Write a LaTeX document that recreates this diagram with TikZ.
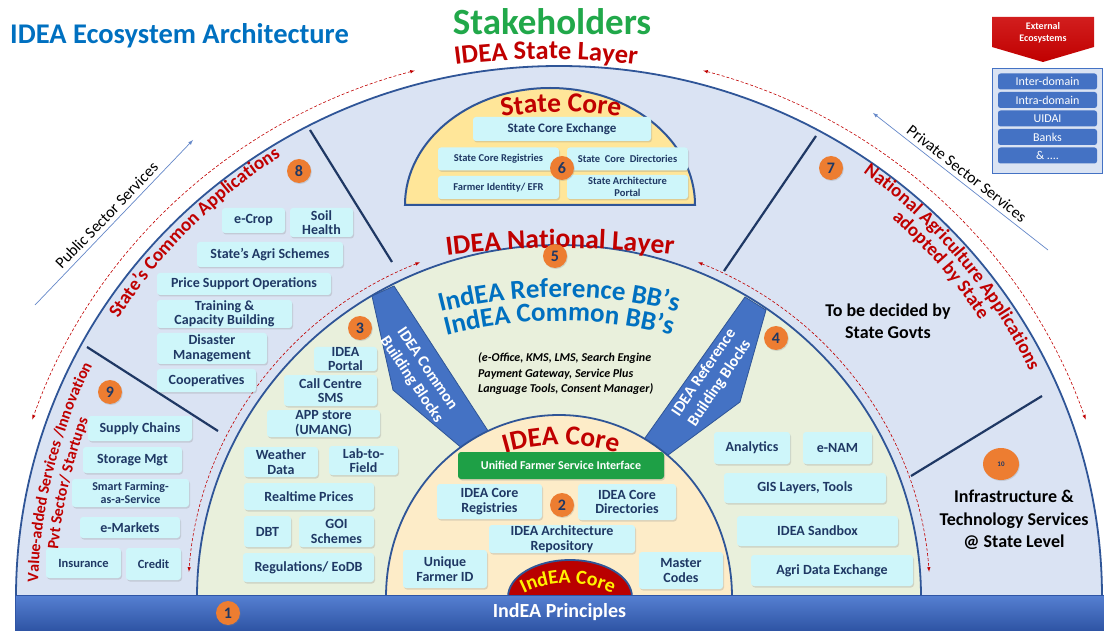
\documentclass[tikz,border=0pt]{standalone}
\usepackage{fontspec}
\setmainfont{Carlito}
\usepackage{tikz}
\usetikzlibrary{calc,shadows}
\usetikzlibrary{decorations.text}
\usetikzlibrary{arrows,backgrounds,shapes}

\definecolor{navy}{RGB}{31,56,100}
\definecolor{rimblue}{RGB}{47,85,151}
\definecolor{statefill}{RGB}{218,227,243}
\definecolor{natfill}{RGB}{233,240,220}
\definecolor{corefill}{RGB}{253,236,200}
\definecolor{scorefill}{RGB}{255,230,153}
\definecolor{boxcyan}{RGB}{206,246,250}
\definecolor{titlered}{RGB}{192,0,0}
\definecolor{titleblue}{RGB}{0,112,192}
\definecolor{stakegreen}{RGB}{33,168,74}
\definecolor{ufsigreen}{RGB}{30,160,70}
\definecolor{badgeorange}{RGB}{237,125,49}
\definecolor{bbblue}{RGB}{68,114,196}
\definecolor{barlight}{RGB}{86,128,210}
\definecolor{bardark}{RGB}{47,85,165}
\definecolor{arrowblue}{RGB}{100,135,200}
\definecolor{domered}{RGB}{185,0,0}
\definecolor{extlight}{RGB}{210,30,30}

\newcommand{\fsz}[2]{\fontsize{#1}{#2}\selectfont}
\newcommand{\arcstatelayer}{\fontsize{26.5}{26.5}\selectfont\bfseries\color{titlered}}
\newcommand{\arclayer}{\fontsize{27.5}{27.5}\selectfont\bfseries\color{titlered}}
\newcommand{\arcapps}{\fontsize{19}{19}\selectfont\bfseries\color{titlered}}
\newcommand{\arcvas}{\fontsize{16}{16}\selectfont\bfseries\color{titlered}}
\newcommand{\arcbb}{\fontsize{27}{27}\selectfont\bfseries\color{titleblue}}
\newcommand{\arcdome}{\fontsize{20}{20}\selectfont\bfseries\color{yellow}}

\tikzset{
  rim/.style={draw=rimblue, line width=1.8pt},
  redarrow/.style={draw=titlered, dash pattern=on 3pt off 2pt, line width=0.6pt, latex-latex},
  divider/.style={draw=navy, line width=2.2pt},
  block/.style={fill=bbblue, draw=rimblue, line width=0.8pt},
  blocktext/.style={text=white, font=\bfseries\fsz{16}{19}, align=center},
  appbox/.style={fill=boxcyan, rounded corners=3pt, text=navy, align=center, inner sep=0pt,
    font=\bfseries\fsz{14}{14.5}, drop shadow={opacity=0.25,shadow xshift=1pt,shadow yshift=-1.5pt}},
  smallbox/.style={appbox, font=\bfseries\fsz{10.5}{11.5}},
  wh/.style 2 args={minimum width=#1, minimum height=#2},
  badge/.style={circle, fill=badgeorange, minimum size=24pt, inner sep=0pt, text=navy,
    font=\bfseries\fsz{16}{16}, drop shadow={opacity=0.25,shadow xshift=0.8pt,shadow yshift=-1pt}},
  extitem/.style={fill=bbblue, rounded corners=2.5pt, text=white, font=\fsz{12}{12},
    minimum width=99, minimum height=16, inner sep=0pt},
  svcarrow/.style={draw=arrowblue, line width=0.7pt},
  arclabel/.style={decorate, decoration={text along path, text align=center, text={#1}}},
}

\begin{document}
\begin{tikzpicture}[x=1pt, y=1pt]
    \useasboundingbox (0,0) rectangle (1104,633);

    \fill[statefill] (16,36) arc[start angle=180, end angle=0, x radius=543, y radius=531] -- cycle;
    \draw[rim] (16,36) arc[start angle=180, end angle=0, x radius=543, y radius=531];
    \draw[redarrow, shift={(559,36)}] (105:557 and 545) arc[start angle=105, end angle=161, x radius=557, y radius=545];
    \draw[redarrow, shift={(559,36)}] (75:557 and 545) arc[start angle=75, end angle=19, x radius=557, y radius=545];

    \coordinate (divA1) at (310,503); \coordinate (divA2) at (392,371);
    \coordinate (divB1) at (87,286);  \coordinate (divB2) at (218,202);
    \coordinate (divC1) at (816,497); \coordinate (divC2) at (724,362);
    \coordinate (divD1) at (1042,237); \coordinate (divD2) at (911,157);
    \draw[divider] (divA1) -- (divA2);
    \draw[divider] (divB1) -- (divB2);
    \draw[divider] (divC1) -- (divC2);
    \draw[divider] (divD1) -- (divD2);

    \fill[natfill] (197,36) arc[start angle=180, end angle=0, x radius=362, y radius=352] -- cycle;
    \draw[rim] (197,36) arc[start angle=180, end angle=0, x radius=362, y radius=352];
    \draw[redarrow, shift={(559,36)}] (112:371 and 361) arc[start angle=112, end angle=176, x radius=371, y radius=361];
    \draw[redarrow, shift={(559,36)}] (68:371 and 361) arc[start angle=68, end angle=4, x radius=371, y radius=361];

    \filldraw[block] (372,337) -- (394,347) -- (492,196) -- (470,178) -- (393,243) -- cycle;
    \filldraw[block] (745,336) -- (766,323) -- (740,231) -- (660,172) -- (640,188) -- cycle;

    \fill[corefill] (386,36) arc[start angle=180, end angle=0, x radius=173, y radius=182] -- cycle;
    \draw[rim] (386,36) arc[start angle=180, end angle=0, x radius=173, y radius=182];
    \filldraw[fill=domered, rim] (508,36) arc[start angle=180, end angle=0, x radius=62, y radius=37] -- cycle;

    \node[top color=barlight, bottom color=bardark, draw=bardark, minimum width=1089, minimum height=35,
      inner sep=0pt, text=white, font=\bfseries\fsz{20}{20}] (principles) at (559.5,20.5) {IndEA Principles};

    \filldraw[fill=scorefill, draw=rimblue, line width=2pt] (405,428) arc[start angle=180, end angle=0, x radius=145, y radius=117] -- cycle;

    % curved headings
    \path[arclabel={|\arcstatelayer|IDEA State Layer}, shift={(546,-126)}] (110:700) arc[start angle=110, end angle=70, radius=700];
    \path[arclabel={|\arclayer|IDEA National Layer}, shift={(560,-515)}] (100:900) arc[start angle=100, end angle=80, radius=900];
    \path[arclabel={|\arclayer|State Core}, shift={(561,171)}] (105:350) arc[start angle=105, end angle=75, radius=350];
    \path[arclabel={|\arclayer|IDEA Core}, shift={(561,-12)}] (120:200) arc[start angle=120, end angle=60, radius=200];
    \path[arclabel={|\arcbb|IndEA Reference BB's}, shift={(559,-144)}] (110:480) arc[start angle=110, end angle=70, radius=480];
    \path[arclabel={|\arcbb|IndEA Common BB's}, shift={(559,-144)}] (110:456) arc[start angle=110, end angle=70, radius=456];
    \path[arclabel={|\arcdome|IndEA Core}, shift={(568,-50)}] (125:100) arc[start angle=125, end angle=55, radius=100];
    \path[arclabel={|\arcapps|State's Common Applications}, shift={(559,36)}] (165:521) arc[start angle=165, end angle=105, radius=521];
    \path[arclabel={|\arcvas|Value-added Services /Innovation}, shift={(559,36)}] (196:521) arc[start angle=196, end angle=136, radius=521];
    \path[arclabel={|\arcvas|Pvt Sector/ Startups}, shift={(559,36)}] (197:503) arc[start angle=197, end angle=137, radius=503];
    \path[arclabel={|\arcapps|National Agriculture Applications}, shift={(559,36)}] (70:522) arc[start angle=70, end angle=10, radius=522];
    \path[arclabel={|\arcapps|adopted by State}, shift={(559,36)}] (71:504) arc[start angle=71, end angle=11, radius=504];

    \node[blocktext, rotate=-56] (commonbb) at (419,258.5) {IDEA Common\\Building Blocks};
    \node[blocktext, rotate=56] (referencebb) at (712,255) {IDEA Reference\\Building Blocks};

    \node[anchor=west, inner sep=0pt, text=titleblue, font=\bfseries\fsz{28.5}{28.5}] (title) at (10,597) {IDEA Ecosystem Architecture};
    \node[inner sep=0pt, text=stakegreen, font=\bfseries\fsz{37}{37}] (stakeholders) at (552,611) {Stakeholders};

    \coordinate (pubfrom) at (35,328); \coordinate (pubto) at (193,493);
    \draw[svcarrow, -latex] (pubfrom) -- node[sloped, above=1pt, font=\fsz{16}{16}] (publabel) {Public Sector Services} (pubto);
    \coordinate (privfrom) at (1048,383); \coordinate (privto) at (873,520);
    \draw[svcarrow, latex-] (privto) -- node[sloped, above=1pt, font=\fsz{16}{16}] (privlabel) {Private Sector Services} (privfrom);

    % state core
    \node[appbox, font=\bfseries\fsz{13}{13}, wh={178}{24}] (scexchange) at (562,504) {State Core Exchange};
    \node[smallbox, wh={121}{23}] (scregistries) at (498.5,474) {State Core Registries};
    \node[smallbox, wh={121}{23}] (scdirectories) at (627.5,474) {State~ Core~ Directories};
    \node[smallbox, wh={121}{23}] (scfarmerid) at (498.5,445.5) {Farmer Identity/ EFR};
    \node[smallbox, wh={121}{24}] (scportal) at (627.5,446) {State Architecture\\Portal};

    % state common applications
    \node[appbox, wh={63}{25}] (ecrop) at (253.5,412.5) {e-Crop};
    \node[appbox, wh={63}{29}] (soilhealth) at (321.5,410.5) {Soil\\Health};
    \node[appbox, wh={146}{25}] (agrischemes) at (270,378.5) {State's Agri Schemes};
    \node[appbox, wh={174}{22}] (pricesupport) at (244,349) {Price Support Operations};
    \node[appbox, wh={135}{28}] (training) at (224.5,319) {Training \&\\Capacity Building};
    \node[appbox, wh={110}{31}] (disaster) at (212,284.5) {Disaster\\Management};
    \node[appbox, wh={99}{23}] (cooperatives) at (206.5,252.5) {Cooperatives};

    % value added services
    \node[appbox, wh={104}{25}] (supplychains) at (140,204.5) {Supply Chains};
    \node[appbox, wh={99}{26}] (storage) at (132.5,173) {Storage Mgt};
    \node[appbox, font=\bfseries\fsz{12}{13}, wh={117}{28}] (smartfarming) at (130.5,140) {Smart Farming-\\as-a-Service};
    \node[appbox, wh={100}{21}] (emarkets) at (130,105.5) {e-Markets};
    \node[appbox, font=\bfseries\fsz{12.5}{13}, wh={75}{30}] (insurance) at (83.5,70) {Insurance};
    \node[appbox, font=\bfseries\fsz{12.5}{13}, wh={55}{32}] (credit) at (153.5,69) {Credit};

    % national layer, left
    \node[appbox, wh={63}{24}] (ideaportal) at (345.5,274) {IDEA\\Portal};
    \node[appbox, wh={93}{31}] (callcentre) at (330.5,242.5) {Call Centre\\SMS};
    \node[appbox, wh={113}{27}] (appstore) at (323.5,209.5) {APP store\\(UMANG)};
    \node[appbox, wh={74}{30}] (weather) at (281,171) {Weather\\Data};
    \node[appbox, wh={69}{29}] (labtofield) at (363.5,172.5) {Lab-to-\\Field};
    \node[appbox, wh={130}{27}] (realtime) at (309,136.5) {Realtime Prices};
    \node[appbox, wh={47}{31}] (dbt) at (267.5,101.5) {DBT};
    \node[appbox, wh={75}{31}] (goischemes) at (336.5,101.5) {GOI\\Schemes};
    \node[appbox, wh={131}{29}] (regulations) at (308.5,65.5) {Regulations/ EoDB};

    % idea core
    \node[appbox, fill=ufsigreen, text=white, font=\bfseries\fsz{12}{12}, wh={206}{27}] (ufsi) at (561,167.5) {Unified Farmer Service Interface};
    \node[appbox, wh={105}{35}] (coreregistries) at (489.5,131.5) {IDEA Core\\Registries};
    \node[appbox, wh={98}{36}] (coredirectories) at (627,131) {IDEA Core\\Directories};
    \node[appbox, wh={146}{28}] (archrepo) at (562,94) {IDEA Architecture\\Repository};
    \node[appbox, wh={84}{38}] (farmerid) at (445,64) {Unique\\Farmer ID};
    \node[appbox, wh={84}{37}] (mastercodes) at (681,62.5) {Master\\Codes};

    % national layer, right
    \node[appbox, wh={76}{32}] (analytics) at (752,185) {Analytics};
    \node[appbox, wh={69}{32}] (enam) at (837.5,185) {e-NAM};
    \node[appbox, wh={162}{30}] (gislayers) at (805,145) {GIS Layers, Tools};
    \node[appbox, wh={161}{30}] (sandbox) at (817.5,102) {IDEA Sandbox};
    \node[appbox, wh={162}{31}] (agridata) at (832,62.5) {Agri Data Exchange};

    \node[anchor=west, inner sep=0pt, align=left, font=\bfseries\itshape\fsz{12}{15.5}] (bblist) at (478,259)
      {(e-Office, KMS, LMS, Search Engine\\Payment Gateway, Service Plus\\Language Tools, Consent Manager)};
    \node[align=center, font=\bfseries\fsz{18}{22}] (tbd) at (888,312) {To be decided by\\State Govts};
    \node[align=center, font=\bfseries\fsz{18}{22.5}] (infra) at (1014,113) {Infrastructure \&\\Technology Services\\@ State Level};

    % external ecosystems
    \shade[top color=extlight, bottom color=titlered] (992,616) -- (1094,616) -- (1094,586) -- (1043,571) -- (992,586) -- cycle;
    \node[align=center, text=white, font=\bfseries\fsz{10}{11.5}] (extlabel) at (1043,600) {External\\Ecosystems};
    \node[draw=bbblue, fill=statefill, line width=0.8pt, minimum width=110, minimum height=105, inner sep=0pt] (extbox) at (1047,512.5) {};
    \node[extitem] (interdomain) at (1047.5,551.5) {Inter-domain};
    \node[extitem] (intradomain) at (1047.5,533) {Intra-domain};
    \node[extitem] (uidai) at (1047.5,514.5) {UIDAI};
    \node[extitem] (banks) at (1047.5,496) {Banks};
    \node[extitem] (andmore) at (1047.5,477.5) {\& ....};

    % badges
    \node[badge] (b1) at (228,20) {1};
    \node[badge] (b2) at (562,128) {2};
    \node[badge] (b3) at (360,305) {3};
    \node[badge] (b4) at (776,295) {4};
    \node[badge] (b5) at (555,377) {5};
    \node[badge] (b6) at (562,465) {6};
    \node[badge] (b7) at (831,465) {7};
    \node[badge] (b8) at (299,462) {8};
    \node[badge] (b9) at (110,241) {9};
    \node[badge, ellipse, minimum width=36, minimum height=32, font=\bfseries\fsz{7}{7}] (b10) at (1001,169) {10};

  \end{tikzpicture}
\end{document}
